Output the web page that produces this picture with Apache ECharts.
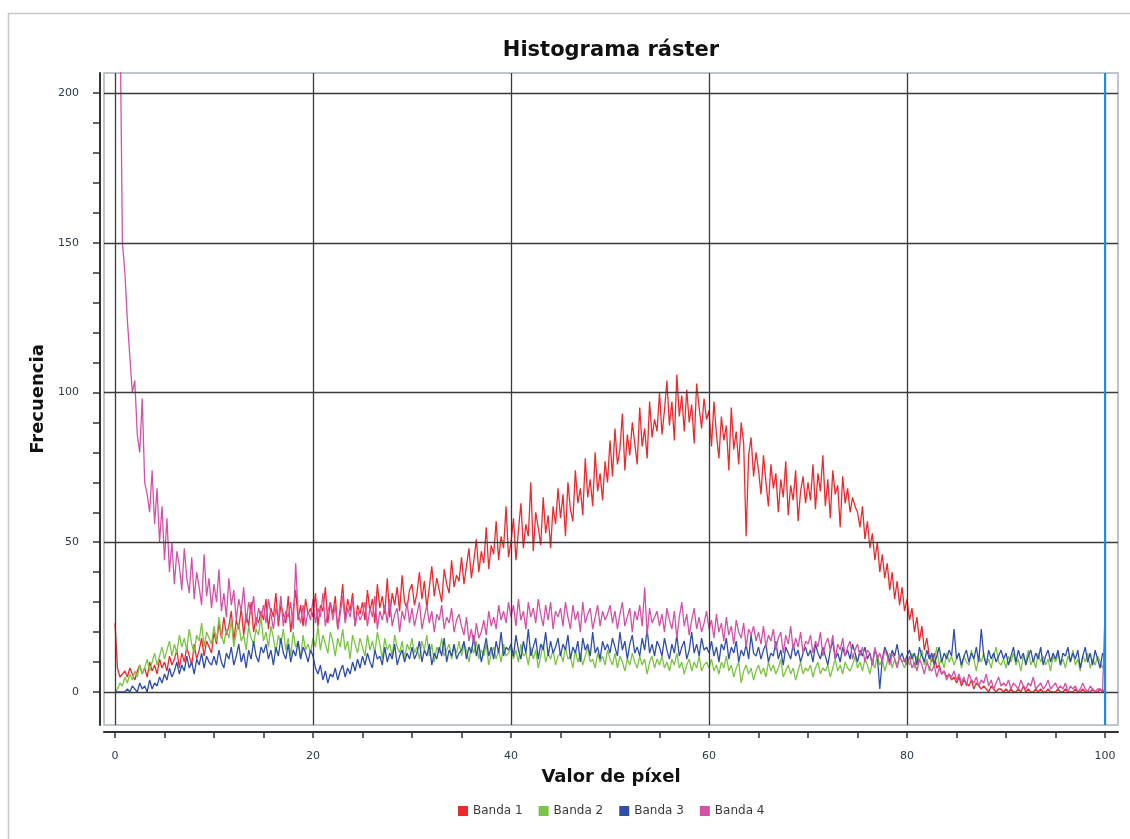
<!DOCTYPE html>
<html><head><meta charset="utf-8">
<script src="https://cdn.jsdelivr.net/npm/echarts@6/dist/echarts.min.js"></script>
<style>html,body{margin:0;padding:0;background:#fff}#c{width:1130px;height:839px}</style>
</head><body><div id="c"></div><script>
// Pixel-value bins (x) every 0.25 from 0 to 100; each row below = 5 units of x
const binStep = 0.25;
const seriesNames = ['Banda 1', 'Banda 2', 'Banda 3', 'Banda 4'];

const banda1 = [
  23, 8, 5, 6, 7, 5, 8, 6, 4, 7, 9, 6, 8, 5, 10, 7, 9, 6, 11, 8,
  10, 7, 12, 9, 11, 14, 8, 13, 10, 15, 12, 9, 16, 11, 14, 18, 12, 17, 15, 13,
  20, 16, 23, 18, 25, 19, 22, 27, 17, 24, 21, 28, 19, 26, 22, 30, 20, 25, 23, 27,
  24, 31, 21, 28, 25, 33, 22, 29, 26, 23, 32, 20, 27, 34, 24, 29, 22, 31, 26, 28,
  25, 33, 22, 29, 27, 35, 23, 30, 26, 32, 21, 28, 36, 24, 31, 27, 33, 22, 29, 26,
  30, 24, 34, 27, 31, 23, 36, 28, 32, 26, 38, 25, 33, 29, 35, 27, 39, 30, 28, 34,
  36, 29, 33, 40, 31, 37, 28, 35, 42, 32, 38, 34, 30, 41, 36, 33, 44, 35, 39, 37,
  45, 36, 42, 48, 38, 44, 51, 40, 47, 43, 55, 41, 49, 46, 57, 44, 52, 48, 62, 45,
  50, 58, 44, 54, 63, 48, 56, 52, 70, 47, 60, 55, 49, 65, 53, 59, 48, 62, 56, 68,
  58, 66, 52, 70, 61, 57, 74, 63, 68, 59, 78, 65, 71, 62, 80, 67, 73, 64, 77, 70,
  84, 72, 88, 76, 81, 93, 74, 86, 79, 90, 83, 76, 95, 82, 88, 78, 97, 85, 91, 87,
  100, 86, 94, 104, 89, 97, 84, 106, 92, 99, 87, 101, 90, 96, 83, 103, 95, 88, 98, 91,
  94, 82, 97, 86, 78, 92, 84, 89, 74, 95, 81, 87, 76, 90, 83, 52, 79, 85, 72, 80,
  74, 66, 79, 70, 62, 76, 68, 73, 60, 71, 65, 77, 59, 69, 64, 74, 57, 67, 72, 63,
  70, 64, 76, 61, 73, 67, 79, 62, 71, 58, 74, 66, 69, 55, 72, 63, 68, 60, 65, 62,
  60, 55, 62, 51, 57, 48, 53, 44, 50, 40, 46, 38, 43, 34, 40, 31, 37, 29, 35, 27,
  31, 24, 28, 20, 25, 17, 22, 14, 18, 12, 10, 13, 8, 9, 6, 7, 5, 6, 4, 5,
  3, 5, 2, 4, 3, 2, 4, 1, 3, 2, 1, 2, 1, 0, 2, 1, 0, 1, 1, 0,
  1, 0, 1, 0, 0, 1, 0, 2, 0, 1, 0, 0, 1, 0, 1, 0, 0, 1, 0, 0,
  0, 1, 0, 0, 1, 0, 0, 0, 1, 0, 0, 1, 0, 0, 0, 1, 0, 0, 1, 0,
  1
];
const banda2 = [
  0, 1, 3, 2, 5, 3, 6, 4, 7, 5, 9, 6, 8, 11, 7, 10, 13, 9, 12, 15,
  11, 14, 17, 12, 16, 13, 19, 15, 18, 14, 21, 16, 13, 19, 17, 23, 15, 20, 18, 16,
  22, 17, 25, 19, 16, 21, 18, 24, 15, 20, 23, 17, 19, 14, 22, 18, 16, 21, 19, 25,
  17, 20, 15, 22, 18, 13, 19, 16, 21, 14, 18, 12, 20, 15, 17, 11, 19, 14, 16, 13,
  18, 15, 22, 14, 19, 16, 13, 20, 17, 12, 18, 15, 21, 14, 17, 11, 19, 16, 13, 18,
  15, 12, 19, 14, 17, 13, 20, 16, 11, 18, 14, 16, 12, 19, 15, 13, 17, 11, 16, 14,
  18, 13, 15, 11, 17, 14, 19, 12, 16, 10, 15, 13, 18, 12, 14, 16, 11, 15, 13, 17,
  12, 16, 14, 10, 15, 13, 17, 11, 14, 12, 16, 9, 13, 15, 11, 14, 10, 16, 12, 13,
  15, 11, 14, 10, 16, 12, 13, 9, 15, 11, 14, 8, 12, 16, 10, 13, 11, 14, 9, 12,
  13, 10, 15, 11, 12, 8, 14, 10, 13, 9, 12, 15, 10, 11, 8, 13, 10, 12, 9, 14,
  11, 9, 13, 8, 12, 10, 7, 11, 9, 13, 10, 8, 12, 9, 11, 6, 10, 12, 8, 11,
  9, 12, 8, 10, 7, 11, 9, 13, 8, 10, 6, 9, 11, 7, 10, 8, 12, 7, 9, 10,
  8, 11, 7, 9, 6, 10, 8, 12, 7, 9, 5, 8, 10, 3, 7, 9, 6, 8, 4, 7,
  9, 6, 8, 5, 10, 7, 9, 6, 8, 11, 5, 7, 9, 6, 8, 4, 7, 10, 6, 8,
  7, 9, 5, 8, 10, 6, 8, 7, 9, 5, 8, 11, 7, 9, 6, 10, 8, 7, 9, 12,
  8, 10, 7, 11, 9, 6, 10, 8, 12, 9, 11, 7, 10, 13, 8, 11, 9, 12, 10, 8,
  11, 9, 13, 8, 12, 10, 14, 9, 11, 7, 12, 10, 15, 9, 11, 8, 13, 10, 12, 9,
  11, 13, 8, 12, 10, 9, 14, 11, 7, 12, 10, 13, 9, 11, 8, 12, 15, 10, 9, 11,
  8, 12, 10, 13, 9, 11, 7, 12, 10, 14, 9, 11, 8, 13, 10, 12, 9, 11, 7, 12,
  10, 13, 9, 11, 8, 12, 10, 14, 9, 11, 7, 12, 10, 13, 8, 11, 9, 12, 10, 8,
  10
];
const banda3 = [
  0, 0, 0, 0, 0, 1, 0, 2, 1, 0, 3, 1, 2, 0, 4, 1, 3, 2, 5, 3,
  6, 4, 8, 5, 7, 10, 6, 9, 7, 12, 8, 10, 6, 11, 9, 13, 8, 12, 10, 9,
  12, 9, 14, 10, 8, 13, 11, 15, 9, 12, 16, 10, 13, 8, 14, 11, 17, 12, 10, 15,
  13, 16, 11, 14, 9, 15, 12, 18, 13, 11, 16, 10, 14, 12, 17, 11, 15, 13, 10, 14,
  12, 8, 6, 9, 4, 7, 3, 6, 5, 8, 4, 7, 9, 5, 8, 6, 10, 7, 11, 8,
  12, 9, 13, 10, 8, 14, 11, 12, 9, 15, 10, 13, 11, 16, 9, 12, 14, 10, 13, 11,
  15, 11, 13, 17, 10, 14, 12, 16, 9, 13, 11, 15, 12, 18, 10, 14, 12, 16, 11, 13,
  14, 17, 11, 15, 13, 19, 12, 16, 10, 14, 18, 12, 15, 11, 17, 13, 20, 12, 15, 14,
  16, 12, 19, 14, 11, 17, 13, 21, 12, 15, 18, 11, 16, 14, 20, 12, 17, 13, 15, 18,
  12, 16, 14, 19, 11, 15, 13, 17, 10, 18, 14, 16, 12, 20, 13, 15, 11, 17, 14, 16,
  13, 18, 15, 12, 20, 14, 17, 11, 16, 19, 13, 15, 12, 18, 14, 21, 13, 16, 12, 17,
  15, 12, 18, 14, 11, 16, 13, 19, 12, 15, 17, 11, 14, 20, 13, 16, 12, 18, 14, 15,
  13, 17, 12, 15, 10, 16, 14, 18, 11, 15, 13, 17, 10, 14, 12, 16, 11, 19, 13, 12,
  15, 11, 14, 16, 10, 13, 12, 17, 11, 14, 9, 15, 13, 11, 16, 12, 14, 10, 13, 15,
  12, 14, 10, 16, 13, 11, 15, 12, 9, 14, 17, 11, 13, 10, 15, 12, 14, 11, 16, 13,
  10, 14, 12, 15, 11, 13, 9, 14, 12, 1, 11, 15, 13, 10, 14, 12, 16, 11, 13, 10,
  12, 14, 11, 13, 9, 15, 12, 10, 14, 11, 13, 9, 12, 15, 10, 13, 11, 14, 12, 21,
  11, 13, 9, 12, 14, 10, 13, 11, 15, 10, 21, 12, 9, 14, 11, 13, 10, 12, 14, 11,
  13, 9, 12, 15, 10, 14, 11, 13, 9, 12, 14, 10, 13, 11, 15, 9, 12, 14, 10, 13,
  11, 14, 9, 13, 12, 15, 10, 13, 11, 14, 8, 12, 15, 10, 13, 9, 14, 11, 8, 13,
  11
];
const banda4 = [
  260, 250, 230, 150, 140, 124, 112, 100, 104, 86, 80, 98, 70, 66, 60, 74, 56, 68, 50, 62,
  44, 58, 40, 50, 36, 47, 42, 34, 48, 38, 33, 45, 31, 40, 35, 29, 46, 32, 38, 28,
  36, 30, 41, 27, 33, 25, 38, 29, 34, 24, 31, 27, 35, 23, 30, 26, 32, 22, 28, 25,
  29, 23, 31, 26, 21, 28, 24, 32, 22, 27, 25, 30, 21, 43, 26, 23, 29, 22, 27, 24,
  31, 23, 28, 25, 33, 22, 27, 30, 24, 29, 21, 26, 32, 23, 28, 25, 31, 22, 27, 24,
  26, 30, 22, 28, 25, 32, 21, 27, 24, 29, 23, 31, 22, 26, 28, 20, 27, 24, 30, 23,
  28, 22, 26, 30, 21, 25, 29, 23, 27, 20, 26, 24, 29, 21, 25, 23, 28, 20, 24, 26,
  22, 19, 25, 17, 21, 16, 23, 18, 20, 24, 19, 27, 22, 25, 21, 29, 24, 27, 23, 30,
  25, 29, 22, 31, 24, 27, 21, 30, 25, 28, 23, 31, 26, 22, 29, 24, 30, 21, 27, 25,
  28, 22, 30, 25, 21, 29, 24, 27, 20, 30, 23, 26, 28, 21, 25, 29, 22, 27, 24, 26,
  29, 23, 27, 21, 26, 30, 22, 25, 28, 20, 27, 24, 29, 22, 35, 19, 28, 23, 25, 27,
  22, 26, 20, 28, 24, 21, 27, 18, 25, 30, 22, 26, 19, 24, 28, 21, 25, 20, 23, 27,
  21, 24, 18, 26, 20, 23, 17, 25, 19, 22, 16, 24, 20, 18, 23, 15, 21, 19, 22, 17,
  20, 16, 22, 15, 19, 17, 21, 14, 18, 20, 13, 19, 16, 22, 14, 18, 15, 20, 13, 17,
  16, 19, 13, 17, 15, 20, 12, 16, 18, 14, 19, 11, 16, 14, 18, 12, 15, 17, 11, 14,
  16, 12, 15, 10, 14, 13, 9, 15, 11, 13, 10, 14, 12, 9, 13, 11, 8, 12, 10, 11,
  9, 12, 8, 10, 7, 11, 9, 6, 10, 8, 7, 9, 5, 8, 6, 7, 4, 6, 5, 7,
  4, 6, 3, 5, 2, 6, 4, 3, 5, 2, 4, 3, 6, 2, 4, 1, 3, 5, 2, 3,
  2, 4, 1, 3, 2, 1, 4, 2, 1, 3, 2, 5, 1, 2, 3, 1, 2, 4, 1, 2,
  3, 1, 2, 1, 3, 0, 2, 1, 2, 0, 1, 3, 1, 0, 2, 1, 0, 1, 1, 0,
  27
];

const xLabelValues = [0, 20, 40, 60, 80, 100];
const xTickValues = [0, 5, 10, 15, 20, 25, 30, 35, 40, 45, 50, 55, 60, 65, 70, 75, 80, 85, 90, 95, 100];
const yLabelValues = [0, 50, 100, 150, 200];
const yTickValues = [0, 10, 20, 30, 40, 50, 60, 70, 80, 90, 100, 110, 120, 130, 140, 150, 160, 170, 180, 190, 200];
const markerX = 100;

const colors = ['#ec2a2e', '#7cc444', '#2f4ea9', '#d452a6'];
const FONT = 'DejaVu Sans';

const toPairs = arr => arr.map((v, i) => [i * binStep, v]);
const bandData = [banda1, banda2, banda3, banda4];

const chart = echarts.init(document.getElementById('c'), null, {renderer: 'canvas'});

const gridLines = [];
xLabelValues.forEach(v => gridLines.push({xAxis: v}));
yLabelValues.forEach(v => gridLines.push({yAxis: v}));

const series = bandData.map((d, i) => ({
  name: seriesNames[i],
  type: 'line',
  data: toPairs(d),
  showSymbol: false,
  symbol: 'none',
  z: 3,
  lineStyle: {width: 1.3, color: colors[i]},
  itemStyle: {color: colors[i]},
  animation: false
}));

series.unshift({
  name: 'grid',
  type: 'line',
  data: [[0, 0]],
  showSymbol: false,
  symbol: 'none',
  z: 1,
  lineStyle: {opacity: 0},
  silent: true,
  animation: false,
  markLine: {
    silent: true,
    symbol: 'none',
    animation: false,
    label: {show: false},
    lineStyle: {color: '#3a3a3a', width: 1.3, type: 'solid'},
    emphasis: {disabled: true},
    data: gridLines
  }
});

series.push({
  name: 'marker',
  type: 'line',
  data: [[0, 0]],
  showSymbol: false,
  symbol: 'none',
  z: 4,
  lineStyle: {opacity: 0},
  silent: true,
  animation: false,
  markLine: {
    silent: true,
    symbol: 'none',
    animation: false,
    label: {show: false},
    lineStyle: {color: '#1d8fe0', width: 2, type: 'solid'},
    emphasis: {disabled: true},
    data: [{xAxis: markerX}]
  }
});

chart.setOption({
  backgroundColor: '#ffffff',
  animation: false,
  textStyle: {fontFamily: FONT},
  grid: {
    left: 104, top: 73, right: 12, bottom: 114,
    show: true, borderColor: '#a9b3bd', borderWidth: 1.5, backgroundColor: '#ffffff'
  },
  legend: {
    data: seriesNames,
    left: 453, top: 800,
    icon: 'rect', itemWidth: 10, itemHeight: 10, itemGap: 16,
    textStyle: {fontFamily: FONT, fontSize: 12, color: '#3a3a3a'}
  },
  xAxis: {
    type: 'value',
    min: -1.11, max: 101.31,
    offset: 7,
    name: 'Valor de píxel',
    nameLocation: 'middle',
    nameGap: 36,
    nameTextStyle: {fontFamily: FONT, fontSize: 18, fontWeight: 'bold', color: '#111'},
    axisLine: {show: true, onZero: false, lineStyle: {color: '#333', width: 2}},
    axisTick: {show: true, customValues: xTickValues, length: 6, inside: false, lineStyle: {color: '#333', width: 1.5}},
    axisLabel: {show: true, customValues: xLabelValues, margin: 19, fontFamily: FONT, fontSize: 11, color: '#2e3b4a'},
    splitLine: {show: false}
  },
  yAxis: {
    type: 'value',
    min: -11.02, max: 206.68,
    offset: 4,
    name: 'Frecuencia',
    nameLocation: 'middle',
    nameGap: 46,
    nameTextStyle: {fontFamily: FONT, fontSize: 18, fontWeight: 'bold', color: '#111'},
    axisLine: {show: true, onZero: false, lineStyle: {color: '#333', width: 2}},
    axisTick: {show: true, customValues: yTickValues, length: 7, inside: false, lineStyle: {color: '#333', width: 1.5}},
    axisLabel: {show: true, customValues: yLabelValues, margin: 21, fontFamily: FONT, fontSize: 11, color: '#2e3b4a'},
    splitLine: {show: false}
  },
  graphic: [
    {type: 'rect', silent: true, z: -10,
     shape: {x: 8.5, y: 13.5, width: 1300, height: 1000},
     style: {fill: 'none', stroke: '#c8c8c8', lineWidth: 1.5}},
    {type: 'text', silent: true,
     style: {text: 'Histograma ráster', x: 611, y: 51, textAlign: 'center', textVerticalAlign: 'middle',
             font: 'bold 21px "DejaVu Sans"', fill: '#111'}}
  ],
  series: series
});
</script></body></html>
